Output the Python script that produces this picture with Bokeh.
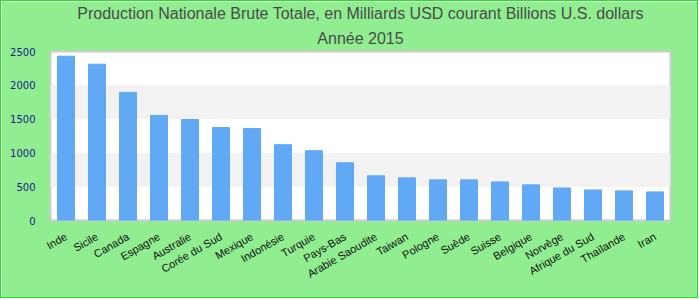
import math
from bokeh.plotting import figure
from bokeh.models import Title, ColumnDataSource
from bokeh.embed import file_html
from bokeh.resources import INLINE

countries = ["Inde", "Sicile", "Canada", "Espagne", "Australie", "Corée du Sud",
             "Mexique", "Indonésie", "Turquie", "Pays-Bas", "Arabie Saoudite",
             "Taiwan", "Pologne", "Suède", "Suisse", "Belgique", "Norvège",
             "Afrique du Sud", "Thaïlande", "Iran"]
values = [2430, 2312, 1895, 1554, 1494, 1375, 1360, 1122, 1033, 854, 661,
          631, 601, 601, 571, 527, 482, 452, 438, 423]
y_ticks = [0, 500, 1000, 1500, 2000, 2500]

title_line1 = "Production Nationale Brute Totale, en Milliards USD courant Billions U.S. dollars"
title_line2 = "Année 2015"

src = ColumnDataSource(data=dict(x=countries, top=values))

p = figure(x_range=countries, y_range=(0, 2500), width=698, height=298,
           output_backend="svg", toolbar_location=None,
           min_border_left=49, min_border_right=29, min_border_bottom=79,
           min_border_top=10)
p.title = Title(text=title_line1, align="center", text_font="Liberation Sans",
                text_font_size="16px", text_font_style="normal", text_color="#4a4a4a",
                standoff=3)
p.add_layout(Title(text=title_line2, align="center", text_font="Liberation Sans",
                   text_font_size="16px", text_font_style="normal",
                   text_color="#4a4a4a", standoff=9), "above")

p.styles = {"border": "1px solid #22e022"}
p.background_fill_color = "white"
p.border_fill_color = "#90EE90"
p.outline_line_color = "#cccccc"
p.outline_line_width = 2

p.vbar(x="x", top="top", width=0.55, source=src, color="#61a9f5")

p.xgrid.grid_line_color = None
p.ygrid.grid_line_color = None
p.ygrid.ticker = y_ticks
p.ygrid.band_fill_color = "#f2f2f2"
p.ygrid.band_fill_alpha = 1.0

p.yaxis.ticker = y_ticks
p.yaxis.axis_line_color = None
p.yaxis.major_tick_line_color = None
p.yaxis.minor_tick_line_color = None
p.yaxis.major_label_text_font = "DejaVu Sans"
p.yaxis.major_label_text_font_size = "10px"
p.yaxis.major_label_text_color = "#1a1a8c"
p.yaxis.major_label_standoff = 9

p.xaxis.axis_line_color = None
p.xaxis.major_tick_line_color = None
p.xaxis.major_label_orientation = math.pi / 6
p.xaxis.major_label_text_font = "Liberation Sans"
p.xaxis.major_label_text_font_size = "11px"
p.xaxis.major_label_text_color = "#111111"
p.xaxis.major_label_standoff = 9

open("out.html", "w").write(file_html(p, INLINE))
